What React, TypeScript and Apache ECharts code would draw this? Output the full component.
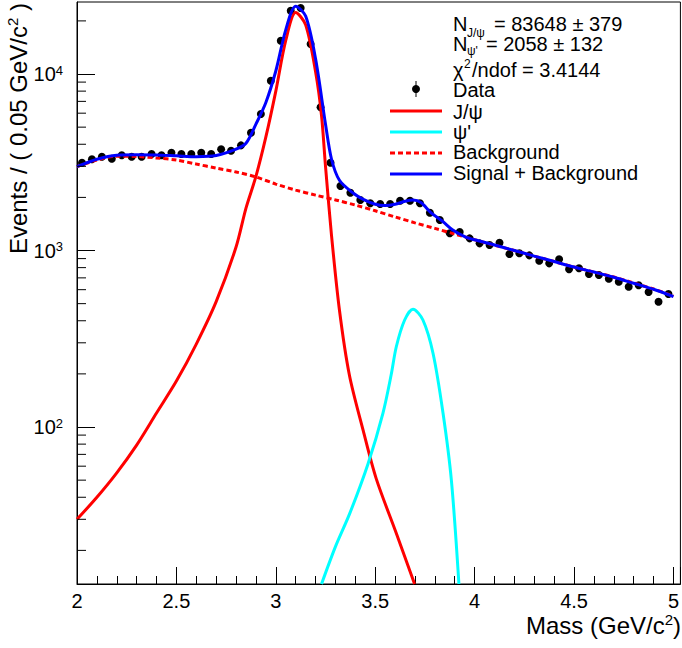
import React, { useEffect, useRef } from 'react';
import * as echarts from 'echarts';

// bin centres (GeV/c^2) and events per 0.05 GeV/c^2
const massBins = [
  2.025, 2.075, 2.125, 2.175, 2.225, 2.275, 2.325, 2.375, 2.425, 2.475,
  2.525, 2.575, 2.625, 2.675, 2.725, 2.775, 2.825, 2.875, 2.925, 2.975,
  3.025, 3.075, 3.125, 3.175, 3.225, 3.275, 3.325, 3.375, 3.425, 3.475,
  3.525, 3.575, 3.625, 3.675, 3.725, 3.775, 3.825, 3.875, 3.925, 3.975,
  4.025, 4.075, 4.125, 4.175, 4.225, 4.275, 4.325, 4.375, 4.425, 4.475,
  4.525, 4.575, 4.625, 4.675, 4.725, 4.775, 4.825, 4.875, 4.925, 4.975,
];
const dataCounts = [
  3145, 3286, 3401, 3311, 3463, 3401, 3401, 3522, 3463, 3583,
  3522, 3522, 3583, 3522, 3745, 3679, 3944, 4651, 5934, 9165,
  15440, 22840, 23660, 14790, 6477, 3145, 2320, 2126, 1932, 1851,
  1834, 1834, 1915, 1915, 1851, 1638, 1489, 1252, 1274, 1172,
  1098, 1074, 1107, 955, 964, 939, 875, 846, 892, 783,
  793, 736, 726, 692, 665, 624, 635, 582, 513, 567,
];

// J/psi component
const jpsiMass = [
  2.0, 2.1, 2.2, 2.3, 2.4, 2.5, 2.6, 2.7, 2.8, 2.85, 2.9, 2.95, 3.0, 3.05,
  3.1, 3.15, 3.2, 3.23, 3.25, 3.28, 3.32, 3.37, 3.44, 3.505, 3.606, 3.698,
];
const jpsiCurve = [
  30, 40, 55, 79, 120, 182, 295, 513, 1047, 1740, 2630, 4400, 8000, 15500,
  22300, 19000, 10300, 5800, 3000, 1224, 460, 197, 95, 51, 25, 12.9,
];

// psi(2S) component
const psiMass = [
  3.23, 3.3, 3.372, 3.464, 3.539, 3.58, 3.606, 3.648, 3.69, 3.74, 3.791,
  3.841, 3.883, 3.921,
];
const psiCurve = [12.9, 21, 32.4, 62, 120, 197, 285, 404, 465, 404, 261, 120, 50, 12.9];

// background
const bkgMass = [
  2.0, 2.1, 2.2, 2.3, 2.4, 2.5, 2.6, 2.7, 2.8, 2.9, 3.0, 3.1, 3.2, 3.3, 3.4,
  3.5, 3.6, 3.7, 3.8, 3.9, 4.0, 4.1, 4.2, 4.3, 4.4, 4.5, 4.6, 4.7, 4.8, 4.9, 5.0,
];
const bkgCurve = [
  2985, 3256, 3420, 3410, 3345, 3256, 3090, 2930, 2785, 2610, 2380, 2200, 2060,
  1935, 1810, 1680, 1550, 1435, 1335, 1240, 1150, 1072, 1000, 930, 866, 806,
  755, 708, 655, 605, 552,
];

// signal + background
const totalMass = [
  2.0, 2.1, 2.2, 2.3, 2.4, 2.5, 2.6, 2.7, 2.8, 2.85, 2.9, 2.95, 3.0, 3.05,
  3.1, 3.15, 3.2, 3.25, 3.28, 3.32, 3.39, 3.44, 3.5, 3.55, 3.6, 3.65, 3.69,
  3.73, 3.78, 3.84, 3.89, 3.95, 4.0, 4.1, 4.2, 4.3, 4.4, 4.5, 4.6, 4.7, 4.8,
  4.9, 5.0,
];
const totalCurve = [
  2985, 3290, 3470, 3490, 3480, 3440, 3400, 3450, 3750, 4050, 5200, 6900,
  10400, 17800, 24200, 21300, 12200, 5200, 3300, 2500, 2110, 1950, 1830, 1800,
  1830, 1900, 1930, 1870, 1640, 1460, 1307, 1200, 1150, 1075, 1000, 930, 866,
  806, 755, 705, 652, 603, 548,
];

const yMinorTicks = [
  20, 30, 40, 50, 60, 70, 80, 90,
  200, 300, 400, 500, 600, 700, 800, 900,
  2000, 3000, 4000, 5000, 6000, 7000, 8000, 9000,
  20000,
];
const xTickLabels = ['2', '2.5', '3', '3.5', '4', '4.5', '5'];

const fitInfo = {
  nJpsi: '= 83648 ± 379',
  nPsi: '= 2058 ± 132',
  chi2: '/ndof = 3.4144',
};

const FONT = '"Liberation Sans", Arial, Helvetica, sans-serif';
const RED = '#ff0000';
const CYAN = '#00ffff';
const BLUE = '#0000ff';

const zip = (xs: number[], ys: number[]) => xs.map((x, i) => [x, ys[i]]);

const txt = (x: number, y: number, text: string, size = 20, align = 'left') => ({
  type: 'text',
  x,
  y,
  silent: true,
  style: {
    text,
    fill: '#000',
    fontSize: size,
    fontFamily: FONT,
    textAlign: align,
    textVerticalAlign: 'middle',
  },
});

const legLine = (y: number, color: string, dashed = false) => ({
  type: 'line',
  silent: true,
  shape: { x1: 390, y1: y, x2: 442, y2: y },
  style: { stroke: color, lineWidth: 3, lineDash: dashed ? [5, 3] : null },
});

const titleRich = {
  t: { fontSize: 24, lineHeight: 26, fontFamily: FONT, fill: '#000', verticalAlign: 'middle' },
  s: { fontSize: 15, lineHeight: 15, fontFamily: FONT, fill: '#000', verticalAlign: 'top' },
};

export default function App() {
  const chartRef = useRef<HTMLDivElement>(null);

  useEffect(() => {
    document.body.style.margin = '0';
    if (!chartRef.current) return;
    const chart = echarts.init(chartRef.current, null, { renderer: 'svg' });

    const option = {
      animation: false,
      textStyle: { fontFamily: FONT },
      grid: {
        left: 77,
        right: 1,
        top: 2,
        bottom: 64,
        show: true,
        borderColor: '#000',
        borderWidth: 1,
      },
      xAxis: {
        type: 'value',
        min: 2,
        max: 5.035,
        interval: 0.5,
        axisLine: { lineStyle: { color: '#000', width: 1 } },
        axisTick: { inside: true, length: 17, lineStyle: { color: '#000' } },
        minorTick: { show: true, splitNumber: 5, length: 8, lineStyle: { color: '#000' } },
        splitLine: { show: false },
        axisLabel: {
          color: '#000',
          fontSize: 20,
          fontFamily: FONT,
          margin: 7,
          showMaxLabel: false,
          formatter: (v: number) => {
            const s = String(Math.round(v * 10) / 10);
            return xTickLabels.includes(s) ? s : '';
          },
        },
      },
      yAxis: {
        type: 'log',
        logBase: 10,
        min: 12.9,
        max: 25590,
        axisLine: { show: true, lineStyle: { color: '#000', width: 1 } },
        axisTick: { inside: true, length: 18, lineStyle: { color: '#000' } },
        splitLine: { show: false },
        axisLabel: {
          color: '#000',
          margin: 14,
          showMinLabel: false,
          showMaxLabel: false,
          formatter: (v: number) => {
            const e = Math.round(Math.log10(v));
            if (Math.abs(Math.log10(v) - e) > 1e-6) return '';
            return `{b|10}{s|${e}}`;
          },
          rich: {
            b: { fontSize: 20, lineHeight: 21, fontFamily: FONT, color: '#000', verticalAlign: 'middle' },
            s: { fontSize: 13, lineHeight: 13, fontFamily: FONT, color: '#000', verticalAlign: 'top' },
          },
        },
      },
      series: [
        {
          name: 'Data',
          type: 'scatter',
          data: zip(massBins, dataCounts),
          symbol: 'circle',
          symbolSize: 8,
          itemStyle: { color: '#000', opacity: 1 },
          z: 2,
        },
        {
          name: 'J/ψ',
          type: 'line',
          data: zip(jpsiMass, jpsiCurve),
          showSymbol: false,
          smooth: 0.3,
          lineStyle: { color: RED, width: 3 },
          z: 3,
        },
        {
          name: "ψ'",
          type: 'line',
          data: zip(psiMass, psiCurve),
          showSymbol: false,
          smooth: 0.3,
          lineStyle: { color: CYAN, width: 3 },
          z: 3,
        },
        {
          name: 'Background',
          type: 'line',
          data: zip(bkgMass, bkgCurve),
          showSymbol: false,
          smooth: 0.3,
          lineStyle: { color: RED, width: 3, type: [5, 3] },
          z: 3,
        },
        {
          name: 'Signal + Background',
          type: 'line',
          data: zip(totalMass, totalCurve),
          showSymbol: false,
          smooth: 0.3,
          lineStyle: { color: BLUE, width: 3 },
          z: 4,
        },
        {
          // log-axis minor ticks at 2..9 x 10^n
          type: 'custom',
          data: yMinorTicks.map((v) => [2, v]),
          silent: true,
          clip: false,
          z: 5,
          renderItem: (_params: any, api: any) => {
            const p = api.coord([api.value(0), api.value(1)]);
            return {
              type: 'line',
              shape: { x1: p[0], y1: p[1], x2: p[0] + 9, y2: p[1] },
              style: { stroke: '#000', lineWidth: 1 },
            };
          },
        },
      ],
      graphic: [
        // axis titles
        {
          type: 'text',
          x: 681,
          y: 625,
          silent: true,
          style: {
            text: '{t|Mass (GeV/c}{s|2}{t|)}',
            textAlign: 'right',
            textVerticalAlign: 'middle',
            fill: '#000',
            rich: titleRich,
          },
        },
        {
          type: 'text',
          x: 18,
          y: 3,
          rotation: Math.PI / 2,
          silent: true,
          style: {
            text: '{t|Events / ( 0.05 GeV/c}{s|2}{t| )}',
            textAlign: 'right',
            textVerticalAlign: 'middle',
            fill: '#000',
            rich: titleRich,
          },
        },
        // fit results
        txt(453, 24, 'N'),
        txt(467, 33, 'J/ψ', 12),
        txt(494, 24, fitInfo.nJpsi),
        txt(453, 44, 'N'),
        txt(467, 51, "ψ'", 12),
        txt(486, 44, fitInfo.nPsi),
        txt(453, 70, 'χ'),
        txt(464, 64, '2', 12),
        txt(472, 70, fitInfo.chi2),
        // legend
        {
          type: 'line',
          silent: true,
          shape: { x1: 416, y1: 81, x2: 416, y2: 97 },
          style: { stroke: '#000', lineWidth: 1 },
        },
        { type: 'circle', silent: true, shape: { cx: 416, cy: 89, r: 4 }, style: { fill: '#000' } },
        txt(453, 90, 'Data'),
        legLine(111, RED),
        txt(453, 112, 'J/ψ'),
        legLine(132, CYAN),
        txt(453, 132, "ψ'"),
        legLine(153, RED, true),
        txt(453, 152, 'Background'),
        legLine(174, BLUE),
        txt(453, 173, 'Signal + Background'),
      ],
    };

    chart.setOption(option as any);
    return () => {
      chart.dispose();
    };
  }, []);

  return <div ref={chartRef} style={{ width: 682, height: 648 }} />;
}
